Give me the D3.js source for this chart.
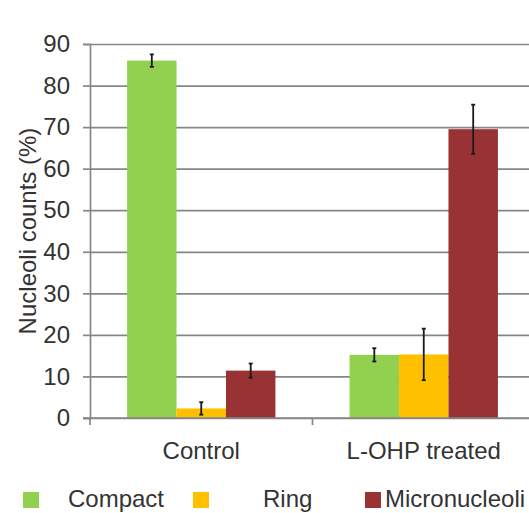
<!DOCTYPE html>
<html>
<head>
<meta charset="utf-8">
<script src="https://cdn.jsdelivr.net/npm/d3@7"></script>
<style>
  body { margin: 0; background: #fff; }
  svg { display: block; }
  text { font-family: "Liberation Sans", Arial, sans-serif; fill: #333; }
</style>
</head>
<body>
<svg id="chart" width="529" height="513"></svg>
<script>
// Nucleoli morphology counts per condition
const categories = ["Control", "L-OHP treated"];
const seriesNames = ["Compact", "Ring", "Micronucleoli"];
const compact = [86.0, 15.2];
const ring = [2.3, 15.3];
const micronucleoli = [11.4, 69.5];
const compactErr = [1.5, 1.6];
const ringErr = [1.5, 6.2];
const micronucleoliErr = [1.7, 5.9];
const yTicks = [0, 10, 20, 30, 40, 50, 60, 70, 80, 90];
const seriesColors = ["#92D050", "#FFC000", "#993333"];
const yTitle = "Nucleoli counts (%)";

const values = [compact, ring, micronucleoli];
const errors = [compactErr, ringErr, micronucleoliErr];

const FONT = 24;
const svg = d3.select("#chart");
const plotLeft = 90, plotRight = 535, plotTop = 44, plotBottom = 418;

const x0 = d3.scaleBand().domain(categories).range([plotLeft, plotRight]);
const bw = x0.bandwidth();
const barW = bw / 4.5; // gap between groups = 150% of a bar
const x1 = d3.scaleBand().domain(seriesNames).range([0.75 * barW, 3.75 * barW]);
const y = d3.scaleLinear().domain([0, 90]).range([plotBottom, plotTop]);

// horizontal gridlines
svg.append("g")
  .attr("transform", `translate(${plotLeft},0)`)
  .call(d3.axisLeft(y).tickValues(yTicks).tickSize(-(plotRight - plotLeft)).tickFormat(""))
  .call(g => g.select(".domain").remove())
  .call(g => g.selectAll("line").attr("stroke", "#868686").attr("stroke-width", 1.7));

// bars
const rows = [];
seriesNames.forEach((s, si) => {
  categories.forEach((c, ci) => {
    rows.push({ s, c, si, v: values[si][ci], e: errors[si][ci] });
  });
});

svg.append("g").selectAll("rect").data(rows).join("rect")
  .attr("x", d => x0(d.c) + x1(d.s))
  .attr("width", x1.bandwidth())
  .attr("y", d => y(d.v))
  .attr("height", d => y(0) - y(d.v))
  .attr("fill", d => seriesColors[d.si]);

// error bars
const eb = svg.append("g").attr("stroke", "#1a1a1a").attr("stroke-width", 1.8);
rows.forEach(d => {
  const cx = x0(d.c) + x1(d.s) + x1.bandwidth() / 2;
  eb.append("line").attr("x1", cx).attr("x2", cx).attr("y1", y(d.v + d.e)).attr("y2", y(d.v - d.e));
  [d.v + d.e, d.v - d.e].forEach(v => {
    eb.append("line").attr("x1", cx - 2).attr("x2", cx + 2).attr("y1", y(v)).attr("y2", y(v));
  });
});

// y axis
svg.append("g")
  .attr("transform", `translate(${plotLeft},0)`)
  .call(d3.axisLeft(y).tickValues(yTicks).tickSize(7).tickPadding(13))
  .call(g => g.select(".domain").attr("stroke", "#868686").attr("stroke-width", 1.7))
  .call(g => g.selectAll(".tick line").attr("stroke", "#868686").attr("stroke-width", 1.7))
  .call(g => g.selectAll("text").attr("font-size", FONT).attr("fill", "#333").style("font-family", "Liberation Sans, Arial, sans-serif"));

// x axis line with category boundary ticks
const xa = svg.append("g").attr("stroke", "#868686").attr("stroke-width", 1.7);
xa.append("line").attr("x1", plotLeft - 7).attr("x2", plotRight).attr("y1", plotBottom).attr("y2", plotBottom);
const bounds = [plotLeft].concat(categories.map(c => x0(c) + bw));
bounds.forEach(bx => {
  xa.append("line").attr("x1", bx).attr("x2", bx).attr("y1", plotBottom).attr("y2", plotBottom + 7);
});

svg.append("g")
  .attr("transform", `translate(0,${plotBottom})`)
  .call(d3.axisBottom(x0).tickSize(0).tickPadding(24))
  .call(g => g.select(".domain").remove())
  .call(g => g.selectAll("text").attr("font-size", FONT).attr("fill", "#333").style("font-family", "Liberation Sans, Arial, sans-serif"));

// y axis title
svg.append("text")
  .attr("transform", `translate(36,231) rotate(-90)`)
  .attr("text-anchor", "middle")
  .attr("font-size", FONT)
  .text(yTitle);

// legend
const legendSquareX = [23, 193, 365];
const legendTextX = [68, 263, 385];
const lg = svg.append("g");
seriesNames.forEach((s, i) => {
  lg.append("rect").attr("x", legendSquareX[i]).attr("y", 492).attr("width", 16).attr("height", 16)
    .attr("fill", seriesColors[i]);
  lg.append("text").attr("x", legendTextX[i]).attr("y", 507).attr("font-size", FONT).text(s);
});
</script>
</body>
</html>
